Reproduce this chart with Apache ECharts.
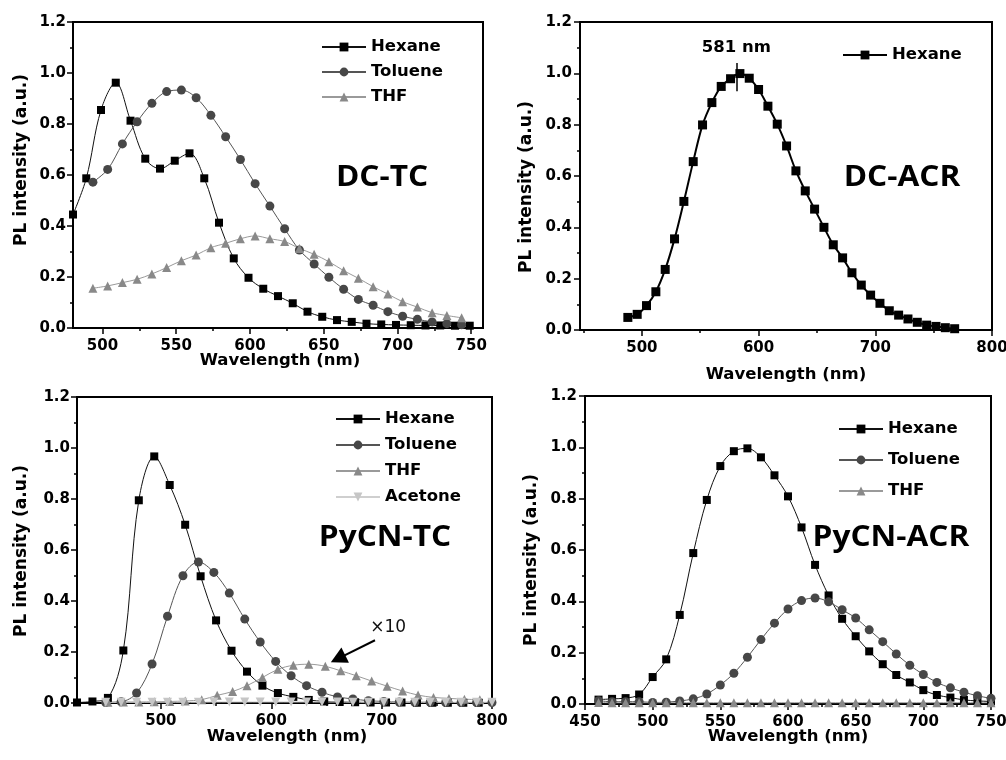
<!DOCTYPE html>
<html>
<head>
<meta charset="utf-8">
<script src="https://cdn.jsdelivr.net/npm/echarts@6/dist/echarts.min.js"></script>
<style>
  html, body { margin: 0; padding: 0; background: #fff; }
  #chart { width: 1006px; height: 760px; }
</style>
</head>
<body>
<div id="chart"></div>
<script>
// ---------- DC-TC ----------
const dctcHexaneNm = [480, 489, 499, 509, 519, 529, 539, 549, 559, 569, 579, 589, 599, 609, 619, 629, 639, 649, 659, 669, 679, 689, 699, 709, 719, 729, 739, 749];
const dctcHexane = [0.445, 0.587, 0.855, 0.962, 0.813, 0.664, 0.625, 0.656, 0.685, 0.587, 0.413, 0.273, 0.197, 0.154, 0.125, 0.097, 0.064, 0.044, 0.031, 0.024, 0.017, 0.014, 0.012, 0.011, 0.010, 0.010, 0.009, 0.009];
const dctcSolventNm = [493.5, 503.5, 513.5, 523.5, 533.5, 543.5, 553.5, 563.5, 573.5, 583.5, 593.5, 603.5, 613.5, 623.5, 633.5, 643.5, 653.5, 663.5, 673.5, 683.5, 693.5, 703.5, 713.5, 723.5, 733.5, 743.5];
const dctcToluene = [0.572, 0.622, 0.722, 0.809, 0.881, 0.927, 0.933, 0.903, 0.834, 0.750, 0.661, 0.566, 0.478, 0.389, 0.306, 0.251, 0.199, 0.152, 0.112, 0.089, 0.064, 0.046, 0.034, 0.024, 0.017, 0.013];
const dctcThf = [0.156, 0.165, 0.178, 0.191, 0.212, 0.237, 0.264, 0.286, 0.315, 0.332, 0.350, 0.361, 0.350, 0.339, 0.312, 0.289, 0.260, 0.225, 0.195, 0.162, 0.133, 0.103, 0.082, 0.060, 0.049, 0.040];
const dctcTicks = [500, 550, 600, 650, 700, 750];
const dctcMinorTicks = [525, 575, 625, 675, 725];

// ---------- DC-ACR ----------
const dcacrNm = [488, 496, 504, 512, 520, 528, 536, 544, 552, 560, 568, 576, 584, 592, 600, 608, 616, 624, 632, 640, 648, 656, 664, 672, 680, 688, 696, 704, 712, 720, 728, 736, 744, 752, 760, 768];
const dcacrHexane = [0.049, 0.061, 0.095, 0.149, 0.236, 0.355, 0.501, 0.656, 0.799, 0.886, 0.949, 0.979, 0.999, 0.981, 0.937, 0.872, 0.802, 0.717, 0.620, 0.542, 0.471, 0.400, 0.332, 0.281, 0.223, 0.175, 0.136, 0.104, 0.075, 0.058, 0.043, 0.030, 0.019, 0.014, 0.009, 0.005];
const dcacrPeakNm = 581;
const dcacrTicks = [500, 600, 700, 800];
const dcacrMinorTicks = [450, 550, 650, 750];

// ---------- PyCN-TC ----------
const pycntcHexaneNm = [424, 438, 452, 466, 480, 494, 508, 522, 536, 550, 564, 578, 592, 606, 620, 634, 648, 662, 676, 690, 704, 718, 732, 746, 760, 774, 788];
const pycntcHexane = [0.002, 0.006, 0.020, 0.206, 0.795, 0.967, 0.855, 0.699, 0.497, 0.324, 0.205, 0.123, 0.068, 0.039, 0.024, 0.012, 0.006, 0.004, 0.003, 0.002, 0.002, 0.002, 0.001, 0.001, 0.001, 0.001, 0.001];
const pycntcTolueneNm = [450, 464, 478, 492, 506, 520, 534, 548, 562, 576, 590, 604, 618, 632, 646, 660, 674, 688, 702, 716, 730, 744, 758, 772, 786, 800];
const pycntcToluene = [0.002, 0.005, 0.039, 0.153, 0.340, 0.499, 0.553, 0.512, 0.431, 0.329, 0.239, 0.163, 0.107, 0.068, 0.042, 0.024, 0.016, 0.009, 0.006, 0.004, 0.003, 0.003, 0.002, 0.002, 0.002, 0.002];
const pycntcThfNm = [452, 466, 480, 494, 508, 522, 537, 551, 565, 578, 592, 606, 620, 634, 649, 663, 677, 691, 705, 719, 733, 747, 761, 775, 789];
const pycntcThfX10 = [0.003, 0.004, 0.004, 0.005, 0.006, 0.008, 0.013, 0.030, 0.045, 0.068, 0.100, 0.132, 0.148, 0.152, 0.144, 0.126, 0.107, 0.086, 0.066, 0.047, 0.031, 0.022, 0.018, 0.015, 0.013];
const pycntcThfFactor = 10;
const pycntcAcetoneNm = [450, 464, 478, 492, 506, 520, 534, 548, 562, 576, 590, 604, 618, 632, 646, 660, 674, 688, 702, 716, 730, 744, 758, 772, 786, 800];
const pycntcAcetone = [0.003, 0.003, 0.003, 0.003, 0.003, 0.003, 0.003, 0.004, 0.004, 0.004, 0.004, 0.004, 0.004, 0.004, 0.004, 0.004, 0.003, 0.003, 0.003, 0.003, 0.003, 0.003, 0.003, 0.003, 0.003, 0.003];
const pycntcTicks = [500, 600, 700, 800];
const pycntcMinorTicks = [450, 550, 650, 750];

// ---------- PyCN-ACR ----------
const pycnacrNm = [460, 470, 480, 490, 500, 510, 520, 530, 540, 550, 560, 570, 580, 590, 600, 610, 620, 630, 640, 650, 660, 670, 680, 690, 700, 710, 720, 730, 740, 750];
const pycnacrHexane = [0.017, 0.020, 0.023, 0.037, 0.105, 0.174, 0.347, 0.588, 0.795, 0.927, 0.985, 0.996, 0.961, 0.891, 0.809, 0.688, 0.542, 0.423, 0.332, 0.264, 0.205, 0.155, 0.113, 0.084, 0.054, 0.035, 0.025, 0.016, 0.012, 0.010];
const pycnacrToluene = [0.013, 0.009, 0.009, 0.009, 0.006, 0.007, 0.012, 0.020, 0.039, 0.074, 0.120, 0.182, 0.251, 0.315, 0.370, 0.403, 0.413, 0.398, 0.367, 0.335, 0.289, 0.243, 0.195, 0.151, 0.115, 0.084, 0.063, 0.046, 0.032, 0.022];
const pycnacrThf = [0.006, 0.005, 0.005, 0.005, 0.005, 0.005, 0.005, 0.005, 0.005, 0.005, 0.005, 0.005, 0.005, 0.005, 0.005, 0.005, 0.005, 0.005, 0.005, 0.005, 0.005, 0.005, 0.005, 0.005, 0.005, 0.005, 0.005, 0.005, 0.005, 0.005];
const pycnacrTicks = [450, 500, 550, 600, 650, 700, 750];
const pycnacrMinorTicks = [475, 525, 575, 625, 675, 725];

// ---------- shared styling ----------
const FONT = '"DejaVu Sans", "Liberation Sans", sans-serif';
const LABEL_FONT = '"Open Sans", "Noto Sans", sans-serif';
const INK = '#000';
const STYLE = {
  Hexane:  { symbol: 'rect',     size: 8, fill: '#000000', line: '#111111' },
  Toluene: { symbol: 'circle',   size: 9, fill: '#474747', line: '#555555' },
  THF:     { symbol: 'triangle', size: 9, fill: '#898989', line: '#9a9a9a' },
  Acetone: { symbol: 'triangle', size: 9, fill: '#c6c6c6', line: '#cfcfcf', rotate: 180 }
};

// plot rectangles of the four panels
const grids = [
  { left: 73,  top: 22,  width: 410, height: 306 },
  { left: 580, top: 22,  width: 412, height: 308 },
  { left: 77,  top: 397, width: 415, height: 306 },
  { left: 585, top: 396, width: 406, height: 308 }
].map(g => Object.assign({ show: true, borderColor: INK, borderWidth: 2, backgroundColor: 'transparent', outerBoundsMode: 'none', containLabel: false }, g));

const tickLabelStyle = { color: INK, fontFamily: FONT, fontWeight: 'bold', fontSize: 15 };

// two x axes per panel: one carries the long ticks + labels, the other the short ticks
function xAxesFor(gridIndex, min, max, major, minor) {
  return [
    {
      gridIndex, type: 'value', min, max, position: 'bottom',
      axisLine: { show: true, onZero: false, lineStyle: { color: INK, width: 2 } },
      axisTick: { show: true, inside: false, length: 6, customValues: major, lineStyle: { color: INK, width: 1.5 } },
      axisLabel: Object.assign({ show: true, margin: 11, customValues: major }, tickLabelStyle),
      splitLine: { show: false }
    },
    {
      gridIndex, type: 'value', min, max, position: 'bottom',
      axisLine: { show: false },
      axisTick: { show: true, inside: false, length: 3, customValues: minor, lineStyle: { color: INK, width: 1.5 } },
      axisLabel: { show: false },
      splitLine: { show: false }
    }
  ];
}

function yAxisFor(gridIndex, margin) {
  return {
    gridIndex, type: 'value', min: 0, max: 1.2, interval: 0.2,
    axisLine: { show: true, onZero: false, lineStyle: { color: INK, width: 2 } },
    axisTick: { show: true, inside: false, length: 6, lineStyle: { color: INK, width: 1.5 } },
    minorTick: { show: true, splitNumber: 2, length: 3, lineStyle: { color: INK, width: 1.5 } },
    axisLabel: Object.assign({ margin, formatter: v => v.toFixed(1) }, tickLabelStyle),
    splitLine: { show: false },
    minorSplitLine: { show: false }
  };
}

function curve(panel, solvent, nm, values, axisIdx, extra) {
  const s = STYLE[solvent];
  return Object.assign({
    type: 'line',
    name: panel + '|' + solvent,
    xAxisIndex: axisIdx * 2,
    yAxisIndex: axisIdx,
    data: nm.map((x, i) => [x, values[i]]),
    smooth: 0.35,
    symbol: s.symbol,
    symbolSize: s.size,
    symbolRotate: s.rotate || 0,
    showSymbol: true,
    showAllSymbol: true,
    clip: true,
    itemStyle: { color: s.fill, borderWidth: 0 },
    lineStyle: { color: s.line, width: 1 },
    emphasis: { disabled: true },
    animation: false
  }, extra || {});
}

function legendFor(panel, names, left, top, gap) {
  return {
    orient: 'vertical', left, top, padding: 0,
    itemWidth: 44, itemHeight: 11, itemGap: gap,
    selectedMode: false,
    data: names.map(n => panel + '|' + n),
    formatter: name => name.split('|')[1],
    textStyle: { color: INK, fontFamily: FONT, fontWeight: 'bold', fontSize: 16.5, lineHeight: 18 }
  };
}

const series = [
  curve('dctc', 'Hexane', dctcHexaneNm, dctcHexane, 0),
  curve('dctc', 'Toluene', dctcSolventNm, dctcToluene, 0),
  curve('dctc', 'THF', dctcSolventNm, dctcThf, 0),

  curve('dcacr', 'Hexane', dcacrNm, dcacrHexane, 1, {
    lineStyle: { color: '#000', width: 2 },
    symbolSize: 9,
    markLine: {
      silent: true, animation: false,
      symbol: ['none', 'none'],
      lineStyle: { color: INK, width: 1.5, type: 'solid' },
      label: {
        show: true, position: 'end', distance: 7,
        formatter: dcacrPeakNm + ' nm',
        color: INK, fontFamily: FONT, fontWeight: 'bold', fontSize: 16.5
      },
      data: [[{ coord: [dcacrPeakNm, 0.93] }, { coord: [dcacrPeakNm, 1.04] }]]
    }
  }),

  curve('pycntc', 'Hexane', pycntcHexaneNm, pycntcHexane, 2),
  curve('pycntc', 'Toluene', pycntcTolueneNm, pycntcToluene, 2),
  curve('pycntc', 'THF', pycntcThfNm, pycntcThfX10, 2, {
    markLine: {
      silent: true, animation: false,
      symbol: ['none', 'triangle'],
      symbolSize: [17, 16],
      lineStyle: { color: INK, width: 2, type: 'solid' },
      itemStyle: { color: INK },
      label: { show: false },
      data: [[{ coord: [694, 0.246] }, { coord: [660.5, 0.174] }]]
    },
    markPoint: {
      silent: true, animation: false,
      symbol: 'rect', symbolSize: 1,
      itemStyle: { color: 'rgba(0,0,0,0)' },
      label: {
        show: true, position: 'inside',
        formatter: '\u00d7' + pycntcThfFactor,
        color: '#111', fontFamily: FONT, fontWeight: 'normal', fontSize: 17
      },
      data: [{ coord: [706, 0.297] }]
    }
  }),
  curve('pycntc', 'Acetone', pycntcAcetoneNm, pycntcAcetone, 2),

  curve('pycnacr', 'Hexane', pycnacrNm, pycnacrHexane, 3),
  curve('pycnacr', 'Toluene', pycnacrNm, pycnacrToluene, 3),
  curve('pycnacr', 'THF', pycnacrNm, pycnacrThf, 3)
];

// axis titles and panel labels
function yTitle(x, y) {
  return {
    type: 'text', x, y, rotation: Math.PI / 2, silent: true,
    style: { text: 'PL intensity (a.u.)', fill: INK, font: 'bold 17px ' + FONT, align: 'center', verticalAlign: 'middle' }
  };
}
function xTitle(x, y) {
  return {
    type: 'text', x, y, silent: true,
    style: { text: 'Wavelength (nm)', fill: INK, font: 'bold 16.5px ' + FONT, align: 'center', verticalAlign: 'middle' }
  };
}
function panelLabel(text, x, y) {
  return {
    type: 'text', x, y, scaleX: 1.13, scaleY: 1, silent: true,
    style: { text, fill: INK, font: 'bold 28px ' + LABEL_FONT, align: 'center', verticalAlign: 'middle' }
  };
}

const option = {
  animation: false,
  backgroundColor: '#fff',
  grid: grids,
  xAxis: [].concat(
    xAxesFor(0, 480, 758, dctcTicks, dctcMinorTicks),
    xAxesFor(1, 447, 800, dcacrTicks, dcacrMinorTicks),
    xAxesFor(2, 424, 800, pycntcTicks, pycntcMinorTicks),
    xAxesFor(3, 450, 750, pycnacrTicks, pycnacrMinorTicks)
  ),
  yAxis: [yAxisFor(0, 7), yAxisFor(1, 8), yAxisFor(2, 7), yAxisFor(3, 8)],
  legend: [
    legendFor('dctc', ['Hexane', 'Toluene', 'THF'], 321, 38, 7),
    legendFor('dcacr', ['Hexane'], 842, 46, 7),
    legendFor('pycntc', ['Hexane', 'Toluene', 'THF', 'Acetone'], 335, 410, 8),
    legendFor('pycnacr', ['Hexane', 'Toluene', 'THF'], 838, 420, 13)
  ],
  series,
  graphic: [
    yTitle(22, 160), yTitle(527, 187), yTitle(22, 551), yTitle(532, 560),
    xTitle(280, 361), xTitle(786, 375), xTitle(287, 737), xTitle(788, 737),
    panelLabel('DC-TC', 382, 178),
    panelLabel('DC-ACR', 902, 178),
    panelLabel('PyCN-TC', 385, 538),
    panelLabel('PyCN-ACR', 891, 538)
  ]
};

const chart = echarts.init(document.getElementById('chart'), null, { renderer: 'canvas' });
chart.setOption(option);
</script>
</body>
</html>
